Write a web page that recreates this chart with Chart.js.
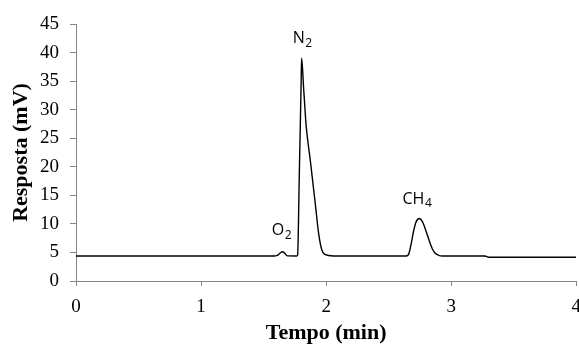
<!DOCTYPE html>
<html>
<head>
<meta charset="utf-8">
<script src="https://cdn.jsdelivr.net/npm/chart.js@4"></script>
<style>
html,body{margin:0;padding:0;overflow:hidden;background:#fff;}
#wrap{width:591px;height:347px;position:relative;}
</style>
</head>
<body>
<div id="wrap"><canvas id="c"></canvas></div>
<script>
// ---- data ----
const times = [0, 1.58, 1.61, 1.635, 1.65, 1.665, 1.69, 1.765, 1.772, 1.785, 1.80, 1.804, 1.82, 1.841, 1.873, 1.913, 1.94, 1.966, 2.005, 2.085, 2.64, 2.66, 2.68, 2.70, 2.72, 2.745, 2.77, 2.79, 2.81, 2.83, 2.85, 2.87, 2.90, 2.93, 3.27, 3.30, 4.0];
const response = [4.38, 4.38, 4.5, 4.95, 5.12, 4.95, 4.4, 4.38, 4.5, 18, 34.5, 39.0, 33.8, 27.0, 21.2, 13.6, 8.35, 5.43, 4.55, 4.38, 4.38, 4.7, 6.5, 8.8, 10.4, 10.95, 10.4, 9.3, 8.0, 6.7, 5.6, 4.9, 4.5, 4.38, 4.38, 4.15, 4.15];
const xTicks = [0, 1, 2, 3, 4];
const yTicks = [0, 5, 10, 15, 20, 25, 30, 35, 40, 45];
const peakNames = ['O', 'N', 'CH'];
const peakSubs = ['2', '2', '4'];
const peakTimes = [1.565, 1.733, 2.611];
const peakLevels = [8.05, 41.6, 13.5];

const points = times.map((t, i) => ({x: t, y: response[i]}));

const serif = "'Liberation Serif','Times New Roman',serif";
const sans = "'Open Sans','Liberation Sans',sans-serif";
const axisGray = '#868686';

const peakLabelPlugin = {
  id: 'peakLabels',
  afterDatasetsDraw(chart) {
    const {ctx, scales} = chart;
    ctx.save();
    ctx.fillStyle = '#000';
    ctx.textAlign = 'left';
    ctx.textBaseline = 'alphabetic';
    peakNames.forEach((name, i) => {
      const px = scales.x.getPixelForValue(peakTimes[i]);
      const py = scales.y.getPixelForValue(peakLevels[i]);
      ctx.font = '16px ' + sans;
      ctx.fillText(name, px, py);
      const w = ctx.measureText(name).width;
      ctx.font = '12px ' + sans;
      ctx.fillText(peakSubs[i], px + w + 0.5, py + 3.5);
    });
    ctx.restore();
  }
};

new Chart(document.getElementById('c'), {
  type: 'scatter',
  data: {
    datasets: [{
      data: points,
      showLine: true,
      borderColor: '#000',
      borderWidth: 1.4,
      pointRadius: 0,
      pointHoverRadius: 0,
      cubicInterpolationMode: 'monotone',
      fill: false
    }]
  },
  options: {
    responsive: true,
    maintainAspectRatio: false,
    animation: false,
    events: [],
    layout: {padding: {top: 24, right: 0, bottom: 0, left: 0}},
    plugins: {legend: {display: false}, tooltip: {enabled: false}},
    scales: {
      x: {
        type: 'linear',
        min: 0, max: 4,
        afterBuildTicks: s => { s.ticks = xTicks.map(v => ({value: v})); },
        afterFit: s => { s.height = 66; },
        ticks: {color: '#000', font: {family: serif, size: 19}, padding: 10, maxRotation: 0},
        grid: {drawOnChartArea: false, tickLength: 5, color: axisGray},
        border: {color: axisGray, width: 1},
        title: {display: true, text: 'Tempo (min)', color: '#000', font: {family: serif, size: 22, weight: 'bold'}, padding: {top: 2, bottom: 0}}
      },
      y: {
        type: 'linear',
        min: 0, max: 45,
        afterBuildTicks: s => { s.ticks = yTicks.map(v => ({value: v})); },
        afterFit: s => { s.width = 76; },
        ticks: {color: '#000', font: {family: serif, size: 19}, padding: 11},
        grid: {drawOnChartArea: false, tickLength: 6, color: axisGray},
        border: {color: axisGray, width: 1},
        title: {display: true, text: 'Resposta (mV)', color: '#000', font: {family: serif, size: 22, weight: 'bold'}, padding: {top: 8, bottom: 0}}
      }
    }
  },
  plugins: [peakLabelPlugin]
});
</script>
</body>
</html>
